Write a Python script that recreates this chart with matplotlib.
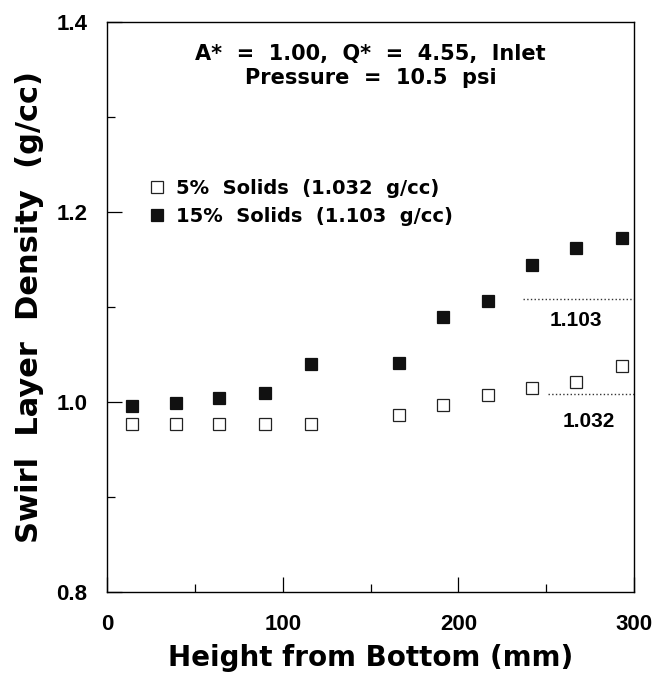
import matplotlib
matplotlib.use("Agg")
import matplotlib.pyplot as plt
from matplotlib.ticker import MultipleLocator

plt.rcParams["font.family"] = ["Liberation Sans", "DejaVu Sans"]
wide = ["DejaVu Sans"]

# Data
height = [14, 39, 64, 90, 116, 166, 191, 217, 242, 267, 293]
dens_5 = [0.977, 0.977, 0.977, 0.977, 0.977, 0.986, 0.997, 1.007, 1.015, 1.021, 1.038]
dens_15 = [0.996, 0.999, 1.004, 1.010, 1.040, 1.041, 1.090, 1.106, 1.144, 1.162, 1.173]

# reference lines (position as drawn) and their labels
ref_y = [1.108, 1.008]
ref_x0 = [237, 251]
ref_text = ["1.103", "1.032"]
ref_text_xy = [(267, 1.086), (274, 0.979)]

fig = plt.figure(figsize=(6.54, 6.88), dpi=100)
ax = fig.add_axes([0.1636, 0.1395, 0.806, 0.8285])

ax.plot(height, dens_5, ls="none", marker="s", ms=8.5, mfc="white", mec="#222222",
        mew=0.9, label="5%  Solids  (1.032  g/cc)")
ax.plot(height, dens_15, ls="none", marker="s", ms=8.5, mfc="#111111", mec="#111111",
        mew=0.9, label="15%  Solids  (1.103  g/cc)")

for y, x0 in zip(ref_y, ref_x0):
    ax.plot([x0, 300], [y, y], ls=":", lw=1.0, color="#333333")
for t, (x, y) in zip(ref_text, ref_text_xy):
    ax.text(x, y, t, ha="center", va="center", fontsize=15, fontweight="bold")

ax.text(0.5, 0.944, "A*  =  1.00,  Q*  =  4.55,  Inlet", transform=ax.transAxes,
        ha="center", va="center", fontsize=15, fontweight="bold", family=wide)
ax.text(0.5, 0.902, "Pressure  =  10.5  psi", transform=ax.transAxes,
        ha="center", va="center", fontsize=15, fontweight="bold", family=wide)

ax.legend(loc="upper left", bbox_to_anchor=(0.045, 0.755), frameon=False,
          handletextpad=0.55, labelspacing=0.45, handlelength=0.9,
          prop={"size": 14, "weight": "bold", "family": wide})

ax.set_xlim(0, 300)
ax.set_ylim(0.8, 1.4)
ax.xaxis.set_major_locator(MultipleLocator(100))
ax.xaxis.set_minor_locator(MultipleLocator(50))
ax.yaxis.set_minor_locator(MultipleLocator(0.1))
ax.set_yticks([0.8, 1.0, 1.2, 1.4])
ax.set_yticklabels(["0.8", "1.0", "1.2", "1.4"])
ax.tick_params(which="major", direction="in", length=11, width=0.9, labelsize=16, pad=16)
ax.tick_params(which="minor", direction="in", length=6, width=0.9)
ax.tick_params(axis="y", pad=14)
for lab in ax.get_xticklabels() + ax.get_yticklabels():
    lab.set_fontweight("bold")
for s in ax.spines.values():
    s.set_linewidth(1.0)

ax.set_xlabel("Height from Bottom (mm)", fontsize=20, fontweight="bold",
              family=wide, labelpad=6)
ax.set_ylabel("Swirl  Layer  Density  (g/cc)", fontsize=22, fontweight="bold",
              family=wide, labelpad=9)

fig.savefig("out.png", dpi=100)
